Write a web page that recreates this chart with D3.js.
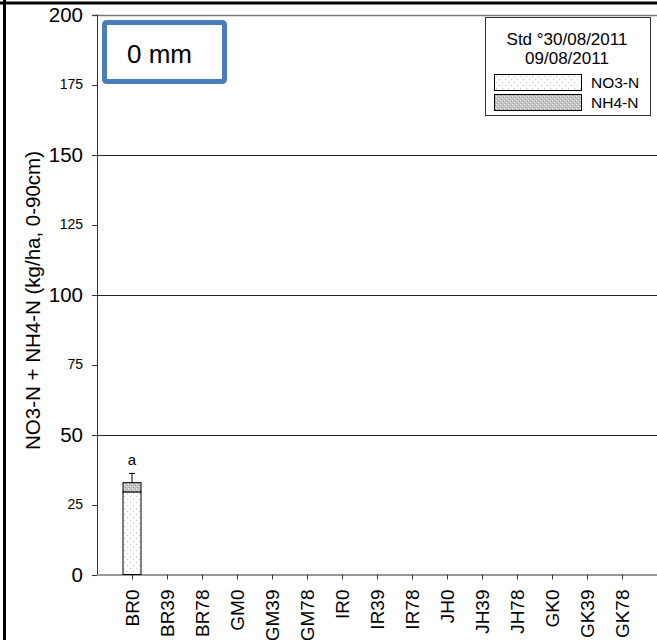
<!DOCTYPE html>
<html><head><meta charset="utf-8">
<script src="https://cdn.jsdelivr.net/npm/d3@7"></script>
<style>body{margin:0;background:#fff}svg{display:block}text{font-family:Arial,"Liberation Sans",sans-serif}</style>
</head><body><svg id="c" width="657" height="640"></svg>
<script>
const categories = ["BR0","BR39","BR78","GM0","GM39","GM78","IR0","IR39","IR78","JH0","JH39","JH78","GK0","GK39","GK78"];
const no3Values = [29.5,null,null,null,null,null,null,null,null,null,null,null,null,null,null];
const nh4Values = [3.3,null,null,null,null,null,null,null,null,null,null,null,null,null,null];
const errValues = [3.3,null,null,null,null,null,null,null,null,null,null,null,null,null,null];
const letters = ["a","","","","","","","","","","","","","",""];
const majorTicks = [0,50,100,150,200];
const minorTicks = [25,75,125,175];
const legendTitle = ["Std °30/08/2011","09/08/2011"];
const seriesNames = ["NO3-N","NH4-N"];
const boxLabel = "0 mm";
const yTitle = "NO3-N + NH4-N (kg/ha, 0-90cm)";

const svg = d3.select("#c");
const defs = svg.append("defs");
const p1 = defs.append("pattern").attr("id","pNO3").attr("patternUnits","userSpaceOnUse").attr("width",6).attr("height",6);
p1.append("rect").attr("width",6).attr("height",6).attr("fill","#fff");
p1.append("rect").attr("x",1).attr("y",1).attr("width",1.2).attr("height",1.2).attr("fill","#c8c8c8");
p1.append("rect").attr("x",4).attr("y",4).attr("width",1.2).attr("height",1.2).attr("fill","#c8c8c8");
const p2 = defs.append("pattern").attr("id","pNH4").attr("patternUnits","userSpaceOnUse").attr("width",4).attr("height",4);
p2.append("rect").attr("width",4).attr("height",4).attr("fill","#c4c4c4");
p2.append("rect").attr("x",0).attr("y",0).attr("width",1).attr("height",1).attr("fill","#f2f2f2");
p2.append("rect").attr("x",2).attr("y",2).attr("width",1).attr("height",1).attr("fill","#f2f2f2");
p2.append("rect").attr("x",1).attr("y",3).attr("width",1).attr("height",1).attr("fill","#999");
p2.append("rect").attr("x",3).attr("y",1).attr("width",1).attr("height",1).attr("fill","#999");

const x0 = 97, x1 = 657, yTop = 14.5, yBot = 574.5;
const x = d3.scalePoint().domain(categories).range([x0, x1]).padding(1);
const y = d3.scaleLinear().domain([0,200]).range([yBot, yTop]);

svg.append("line").attr("x1",0).attr("x2",657).attr("y1",3).attr("y2",3).attr("stroke","#000").attr("stroke-width",3);
svg.append("line").attr("x1",4.5).attr("x2",4.5).attr("y1",0).attr("y2",640).attr("stroke","#000").attr("stroke-width",3);

svg.append("g").selectAll("line").data(majorTicks.filter(d=>d>0)).join("line")
  .attr("x1",92).attr("x2",x1).attr("y1",d=>Math.round(y(d))+0.5).attr("y2",d=>Math.round(y(d))+0.5)
  .attr("stroke",d=>d===200?"#777":"#222").attr("stroke-width",d=>d===200?1.5:1);

const yAxis = svg.append("g");
yAxis.append("line").attr("x1",x0+0.5).attr("x2",x0+0.5).attr("y1",yTop).attr("y2",yBot).attr("stroke","#333");
yAxis.selectAll(".tk").data(majorTicks.concat(minorTicks)).join("line")
  .attr("x1",92).attr("x2",x0).attr("y1",d=>Math.round(y(d))+0.5).attr("y2",d=>Math.round(y(d))+0.5).attr("stroke","#333");
yAxis.selectAll(".maj").data(majorTicks).join("text")
  .attr("x",83).attr("y",d=>y(d)).attr("dy","0.35em").attr("text-anchor","end").attr("font-size",20.5).text(d=>d);
yAxis.selectAll(".min").data(minorTicks).join("text")
  .attr("x",83).attr("y",d=>y(d)).attr("dy","0.35em").attr("text-anchor","end").attr("font-size",14).text(d=>d);
svg.append("text").attr("transform",`translate(40,${(yTop+yBot)/2+6}) rotate(-90)`).attr("text-anchor","middle")
  .attr("font-size",20.5).text(yTitle);

const xAxis = svg.append("g");
xAxis.append("line").attr("x1",x0).attr("x2",x1).attr("y1",yBot+0.5).attr("y2",yBot+0.5).attr("stroke","#333");
xAxis.selectAll(".tk").data(categories).join("line")
  .attr("x1",d=>Math.round(x(d))+0.5).attr("x2",d=>Math.round(x(d))+0.5).attr("y1",yBot).attr("y2",yBot+5).attr("stroke","#333");
xAxis.selectAll("text").data(categories).join("text")
  .attr("transform",d=>`translate(${x(d)},${yBot+15}) rotate(-90)`).attr("dy","0.36em").attr("text-anchor","end")
  .attr("font-size",19).text(d=>d);

const bw = 18;
const bars = svg.append("g");
categories.forEach((c,i)=>{
  if (no3Values[i]==null) return;
  const cx = x(c);
  bars.append("rect").attr("x",cx-bw/2).attr("y",y(no3Values[i])).attr("width",bw).attr("height",y(0)-y(no3Values[i]))
    .attr("fill","url(#pNO3)").attr("stroke","#000").attr("stroke-width",1);
  const top = no3Values[i]+nh4Values[i];
  bars.append("rect").attr("x",cx-bw/2).attr("y",y(top)).attr("width",bw).attr("height",y(no3Values[i])-y(top))
    .attr("fill","url(#pNH4)").attr("stroke","#000").attr("stroke-width",1);
  const e = top+errValues[i];
  bars.append("line").attr("x1",cx).attr("x2",cx).attr("y1",y(top)).attr("y2",y(e)).attr("stroke","#000");
  bars.append("line").attr("x1",cx-3).attr("x2",cx+3).attr("y1",y(e)).attr("y2",y(e)).attr("stroke","#000");
  bars.append("text").attr("x",cx).attr("y",y(e)-8).attr("text-anchor","middle").attr("font-size",15).text(letters[i]);
});

svg.append("rect").attr("x",104.5).attr("y",22.5).attr("width",120).attr("height",59).attr("rx",2)
  .attr("fill","#fff").attr("stroke","#4a7ebb").attr("stroke-width",5);
svg.append("text").attr("x",127).attr("y",63).attr("font-family","Lato, 'Open Sans', sans-serif").attr("font-size",26).text(boxLabel);

const lg = svg.append("g");
lg.append("rect").attr("x",485.5).attr("y",17.5).attr("width",165).attr("height",98).attr("fill","#fff").attr("stroke","#333");
lg.selectAll(".t").data(legendTitle).join("text").attr("x",567).attr("y",(d,i)=>45+i*18.5)
  .attr("text-anchor","middle").attr("font-size",17).text(d=>d);
const fills = ["url(#pNO3)","url(#pNH4)"];
seriesNames.forEach((s,i)=>{
  lg.append("rect").attr("x",494.5).attr("y",74.5+i*20).attr("width",87).attr("height",16).attr("fill",fills[i]).attr("stroke","#000");
  lg.append("text").attr("x",591).attr("y",88+i*20).attr("font-size",15.5).text(s);
});
</script></body></html>
